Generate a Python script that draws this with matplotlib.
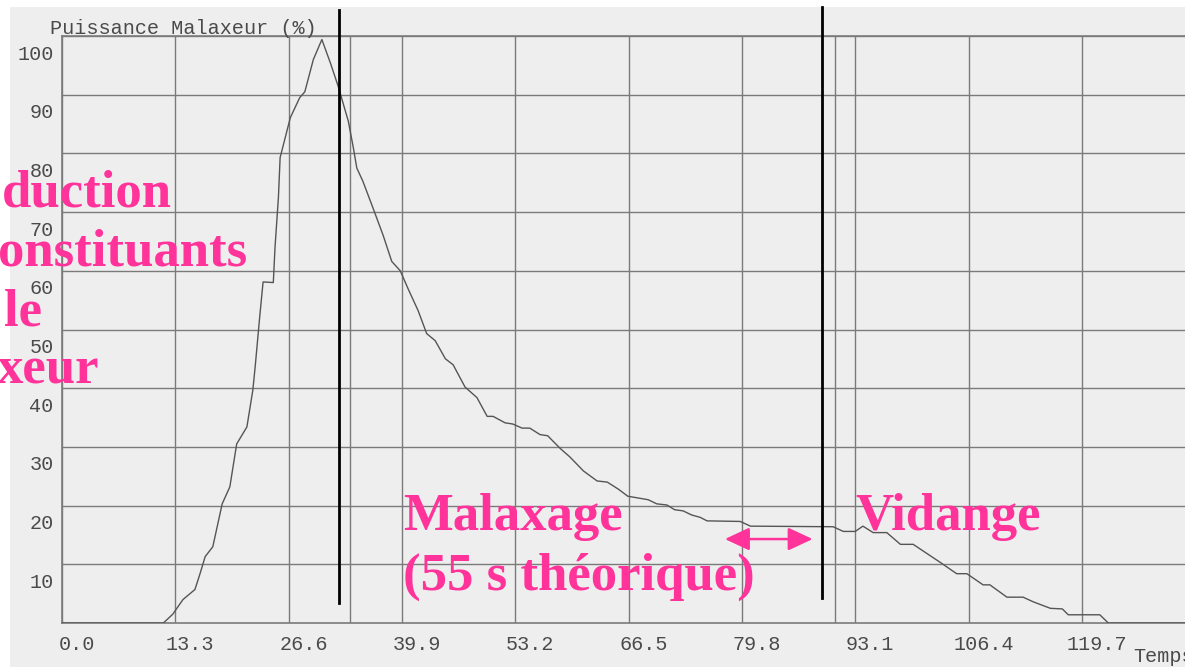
import matplotlib
matplotlib.use("Agg")
import matplotlib.pyplot as plt
from matplotlib.transforms import ScaledTranslation
from matplotlib.patches import Rectangle

# ---- data ----
temps = [0, 11.9, 13.0, 14.2, 15.6, 16.2, 16.8, 17.7, 18.8, 19.7, 20.5, 21.7, 22.4,
         22.7, 23.2, 23.6, 24.8, 25.0, 25.4, 25.6, 26.2, 26.8, 27.9, 28.5, 29.5,
         30.5, 31.5, 32.4, 33.6, 34.2, 34.6, 35.3, 36.5, 37.7, 38.7, 39.7, 40.6,
         41.8, 42.8, 43.8, 45.0, 45.9, 47.3, 48.7, 49.9, 50.6, 52.0, 52.9, 54.0,
         54.9, 56.1, 57.0, 58.5, 59.6, 61.2, 62.8, 64.0, 65.3, 66.4, 68.8, 69.8,
         71.0, 71.9, 72.9, 73.9, 74.9, 75.7, 79.6, 80.8, 90.5, 91.7, 93.1, 94.0,
         95.2, 96.8, 98.4, 99.9, 103.1, 105.0, 106.2, 108.1, 108.9, 110.9, 112.8,
         114.0, 116.0, 117.4, 118.1, 121.8, 122.8, 131.8]
puissance = [0, 0, 1.5, 4.0, 5.7, 8.4, 11.3, 13.0, 20.3, 23.2, 30.5, 33.4, 39.7,
             44.1, 52.1, 58.1, 58.0, 64.0, 72.5, 79.3, 82.7, 86.1, 89.5, 90.5, 96.0,
             99.4, 95.4, 91.5, 85.5, 80.9, 77.5, 75.3, 70.7, 66.0, 61.6, 60.0, 57.0,
             53.2, 49.3, 48.1, 45.0, 44.0, 40.2, 38.4, 35.2, 35.2, 34.1, 33.9, 33.2,
             33.2, 32.1, 31.9, 29.7, 28.3, 25.9, 24.2, 24.0, 22.8, 21.6, 21.0, 20.3,
             20.1, 19.3, 19.1, 18.4, 18.0, 17.4, 17.3, 16.5, 16.4, 15.6, 15.6, 16.5,
             15.4, 15.4, 13.4, 13.4, 10.3, 8.4, 8.4, 6.5, 6.5, 4.4, 4.4,
             3.6, 2.5, 2.4, 1.4, 1.4, 0, 0]

x_ticks = [0.0, 13.3, 26.6, 39.9, 53.2, 66.5, 79.8, 93.1, 106.4, 119.7]
x_tick_labels = ["0.0", "13.3", "26.6", "39.9", "53.2", "66.5", "79.8", "93.1", "106.4", "119.7"]
y_ticks = [10, 20, 30, 40, 50, 60, 70, 80, 90, 100]
y_tick_labels = ["10", "20", "30", "40", "50", "60", "70", "80", "90", "100"]
event_marks = [33.8, 90.7]          # extra grey recorder marks
phase_bounds = [32.5, 89.2]         # black phase separators
arrow_span = [77.8, 88.1]
arrow_level = 14.3

W, H = 1185, 667
fig = plt.figure(figsize=(W / 100, H / 100), dpi=100, facecolor="white")
fig.patches.append(Rectangle((10 / W, 0), 1, (H - 7) / H, transform=fig.transFigure,
                             facecolor="#eeeeee", edgecolor="none", zorder=-10))

ax = fig.add_axes([62 / W, (H - 623) / H, 1 - 62 / W, (623 - 36) / H])
ax.set_facecolor("#eeeeee")
ax.set_xlim(0, 131.8)
ax.set_ylim(0, 100)

grid_c = "#7a7a7a"
mono = "Liberation Mono"
txt_c = "#4a4a4a"

for v in y_ticks:
    ax.axhline(v, color=grid_c, lw=1.0, zorder=1)
for v in x_ticks + event_marks:
    ax.axvline(v, color=grid_c, lw=1.0, zorder=1)

for s in ["right"]:
    ax.spines[s].set_visible(False)
for s in ["left", "bottom", "top"]:
    ax.spines[s].set_color(grid_c)
    ax.spines[s].set_linewidth(1.2)

ax.plot(temps, puissance, color="#555555", lw=1.0, zorder=3)

ax.set_xticks(x_ticks)
ax.set_xticklabels(x_tick_labels, fontfamily=mono, fontsize=14.5, color=txt_c)
ax.set_yticks(y_ticks)
ax.set_yticklabels(y_tick_labels, fontfamily=mono, fontsize=14.5, color=txt_c)
ax.tick_params(axis="both", length=0)
ax.tick_params(axis="x", pad=0)
ax.tick_params(axis="y", pad=6)
for lbl in ax.get_xticklabels():
    lbl.set_va("center")
    lbl.set_transform(lbl.get_transform() + ScaledTranslation(15 / 100, -21 / 100, fig.dpi_scale_trans))
for lbl in ax.get_yticklabels():
    lbl.set_transform(lbl.get_transform() + ScaledTranslation(0, -16 / 100, fig.dpi_scale_trans))

fig.text(50 / W, 1 - 29 / H, "Puissance Malaxeur (%)", fontfamily=mono, fontsize=14.5,
         color=txt_c, ha="left", va="center")
fig.text(1133 / W, 1 - 657 / H, "Temps", fontfamily=mono, fontsize=14.5,
         color=txt_c, ha="left", va="center")

# black phase separators
ax.plot([phase_bounds[0]] * 2, [3.4, 104.4], color="black", lw=2, clip_on=False, zorder=5)
ax.plot([phase_bounds[1]] * 2, [4.3, 104.9], color="black", lw=2, clip_on=False, zorder=5)

pink = "#ff3399"
serif = dict(fontfamily="Liberation Serif", fontweight="bold", fontsize=38, color=pink)

ax.annotate("", xy=(arrow_span[0], arrow_level), xytext=(arrow_span[1], arrow_level),
            arrowprops=dict(arrowstyle="<|-|>,head_length=0.75,head_width=0.35",
                            color=pink, lw=1.8, shrinkA=0, shrinkB=0, mutation_scale=20),
            zorder=6)

fig.text(403 / W, 1 - 530 / H, "Malaxage", ha="left", va="baseline", **serif)
fig.text(403 / W, 1 - 590 / H, "(55 s théorique)", ha="left", va="baseline", **serif)
fig.text(855 / W, 1 - 530 / H, "Vidange", ha="left", va="baseline", **serif)

fig.text(172 / W, 1 - 207 / H, "duction", ha="right", va="baseline", **serif)
fig.text(247 / W, 1 - 266 / H, "onstituants", ha="right", va="baseline", **serif)
fig.text(42 / W, 1 - 326 / H, "le", ha="right", va="baseline", **serif)
fig.text(99 / W, 1 - 384 / H, "xeur", ha="right", va="baseline", **serif)

fig.savefig("out.png", dpi=100, facecolor=fig.get_facecolor())
